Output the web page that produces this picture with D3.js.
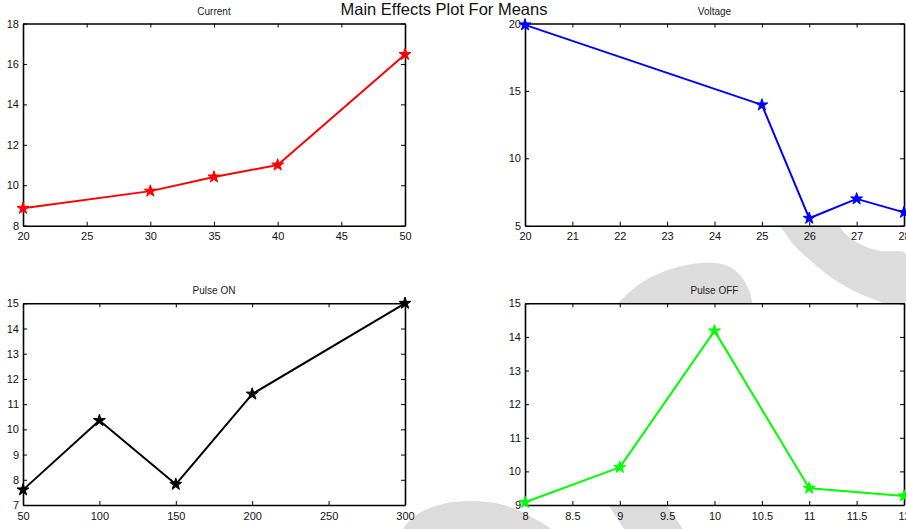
<!DOCTYPE html>
<html>
<head>
<meta charset="utf-8">
<script src="https://cdn.jsdelivr.net/npm/d3@7"></script>
<style>
  body { margin: 0; background: #fff; }
  svg { display: block; font-family: "Liberation Sans", Arial, sans-serif; }
</style>
</head>
<body>
<div id="chart"></div>
<script>
// Data
const currentX = [20, 30, 35, 40, 50];
const currentY = [8.86, 9.71, 10.41, 11.0, 16.47];
const voltageX = [20, 25, 26, 27, 28];
const voltageY = [19.9, 13.96, 5.55, 6.99, 5.99];
const pulseOnX = [50, 100, 150, 200, 300];
const pulseOnY = [7.6, 10.35, 7.82, 11.4, 15.0];
const pulseOffX = [8, 9, 10, 11, 12];
const pulseOffY = [9.08, 10.12, 14.18, 9.5, 9.27];

// Tick labels
const currentXTicks = [20, 25, 30, 35, 40, 45, 50];
const currentYTicks = [8, 10, 12, 14, 16, 18];
const voltageXTicks = [20, 21, 22, 23, 24, 25, 26, 27, 28];
const voltageYTicks = [5, 10, 15, 20];
const pulseOnXTicks = [50, 100, 150, 200, 250, 300];
const pulseOnYTicks = [7, 8, 9, 10, 11, 12, 13, 14, 15];
const pulseOffXTicks = [8, 8.5, 9, 9.5, 10, 10.5, 11, 11.5, 12];
const pulseOffYTicks = [9, 10, 11, 12, 13, 14, 15];

const titles = ["Current", "Voltage", "Pulse ON", "Pulse OFF"];

/*******************************/
/*    Declare the constants    */
/*******************************/
const width = 906;
const height = 529;
const cols = [{left: 23, right: 405}, {left: 525, right: 904}];
const rows = [{top: 23.5, bottom: 225.7}, {top: 303.3, bottom: 505}];
const lineColors = ["#ff0000", "#0000ff", "#000000", "#00ff00"];

const panels = [
  {x: currentX, y: currentY, xt: currentXTicks, yt: currentYTicks, col: 0, row: 0},
  {x: voltageX, y: voltageY, xt: voltageXTicks, yt: voltageYTicks, col: 1, row: 0},
  {x: pulseOnX, y: pulseOnY, xt: pulseOnXTicks, yt: pulseOnYTicks, col: 0, row: 1},
  {x: pulseOffX, y: pulseOffY, xt: pulseOffXTicks, yt: pulseOffYTicks, col: 1, row: 1}
];

// Watermark behind the axes (light grey swooshes)
const watermark = [
  [[778, 215], [790, 240], [812, 262], [838, 282], [870, 298], [906, 306], [906, 254], [880, 251], [858, 243], [842, 230], [836, 215]],
  [[616, 310], [632, 290], [660, 273], [700, 263], [728, 266], [745, 282], [750, 310]],
  [[403, 532], [418, 514], [443, 504], [470, 501], [500, 504], [528, 515], [552, 532]],
  [[607, 503], [607, 503], [665, 503], [665, 503], [685, 532], [685, 532], [626, 532], [626, 532]]
];

const svg = d3.select("#chart")
  .append("svg")
    .attr("width", width)
    .attr("height", height)
    .attr("viewBox", `0 0 ${width} ${height}`);

svg.selectAll("path.wm")
  .data(watermark)
  .join("path")
    .attr("class", "wm")
    .attr("d", d3.line().curve(d3.curveCatmullRomClosed))
    .attr("fill", "#dcdcdc");

// Main title
svg.append("text")
  .text("Main Effects Plot For Means")
  .attr("x", 444)
  .attr("y", 15)
  .attr("text-anchor", "middle")
  .attr("font-size", 16.5)
  .attr("fill", "#111");

const fmt = d3.format("~g");

panels.forEach((p, i) => {
  const c = cols[p.col];
  const r = rows[p.row];
  const w = c.right - c.left;
  const h = r.bottom - r.top;

  const xScale = d3.scaleLinear()
    .domain(d3.extent(p.xt))
    .range([0, w]);
  const yScale = d3.scaleLinear()
    .domain(d3.extent(p.yt))
    .range([h, 0]);

  const g = svg.append("g")
    .attr("transform", `translate(${c.left}, ${r.top})`);

  // White axes background hides the watermark
  g.append("rect")
    .attr("width", w)
    .attr("height", h)
    .attr("fill", "#fff");

  // Subplot title
  g.append("text")
    .text(titles[i])
    .attr("x", w / 2)
    .attr("y", -9)
    .attr("text-anchor", "middle")
    .attr("font-size", 10)
    .attr("fill", "#222");

  // Axes with inward ticks, MATLAB style box
  const bottom = g.append("g")
    .attr("transform", `translate(0, ${h})`)
    .call(d3.axisBottom(xScale).tickValues(p.xt).tickFormat(fmt)
      .tickSizeInner(-4).tickSizeOuter(0).tickPadding(7));
  const left = g.append("g")
    .call(d3.axisLeft(yScale).tickValues(p.yt).tickFormat(fmt)
      .tickSizeInner(-4).tickSizeOuter(0).tickPadding(4));
  const top = g.append("g")
    .call(d3.axisTop(xScale).tickValues(p.xt).tickFormat("")
      .tickSizeInner(-4).tickSizeOuter(0));
  const right = g.append("g")
    .attr("transform", `translate(${w}, 0)`)
    .call(d3.axisRight(yScale).tickValues(p.yt).tickFormat("")
      .tickSizeInner(-4).tickSizeOuter(0));

  [bottom, left, top, right].forEach(ax => {
    ax.attr("font-family", null).attr("font-size", 11);
    ax.selectAll("text").attr("fill", "#111");
    ax.select(".domain").attr("stroke", "#000").attr("stroke-width", 1.6);
    ax.selectAll(".tick line").attr("stroke", "#000").attr("stroke-width", 1);
  });

  // Data line
  const pts = p.x.map((d, k) => [d, p.y[k]]);
  g.append("path")
    .datum(pts)
    .attr("fill", "none")
    .attr("stroke", lineColors[i])
    .attr("stroke-width", 2)
    .attr("stroke-linejoin", "round")
    .attr("d", d3.line().x(d => xScale(d[0])).y(d => yScale(d[1])));

  // Pentagram markers
  g.selectAll("path.marker")
    .data(pts)
    .join("path")
      .attr("class", "marker")
      .attr("transform", d => `translate(${xScale(d[0])}, ${yScale(d[1])})`)
      .attr("d", d3.symbol(d3.symbolStar, 44))
      .attr("fill", lineColors[i])
      .attr("stroke", lineColors[i])
      .attr("stroke-width", 1);
});
</script>
</body>
</html>
